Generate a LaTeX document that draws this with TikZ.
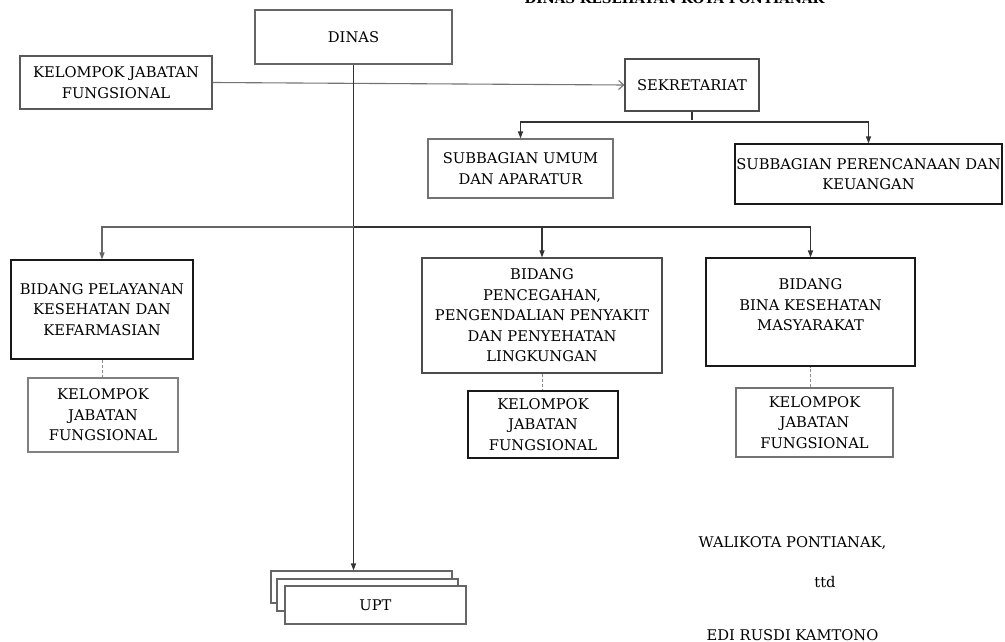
\documentclass[tikz,border=0pt]{standalone}
\usepackage{fontspec}
\setmainfont{DejaVu Serif}
\usetikzlibrary{arrows.meta}
\newcommand\orgfont{\fontsize{14.7}{20.5}\selectfont}
\newcommand\titlefont{\fontsize{13.5}{16}\selectfont\bfseries}
\begin{document}
\begin{tikzpicture}[x=1pt,y=-1pt,
  box/.style={draw, fill=white, align=center, inner sep=0pt, font=\orgfont, line width=1.1pt},
  conn/.style={line width=1.1pt, draw=black!80},
  tip/.style={-{Triangle[length=7pt,width=5pt]}},
  opentip/.style={-{Straight Barb[length=5pt,width=9pt]}},
  dashline/.style={dash pattern=on 3pt off 2pt, draw=black!45, line width=1pt},
  plain/.style={font=\orgfont, inner sep=0pt},
]
\useasboundingbox (0,0) rectangle (1005,642);

% title (cut off at top, as in the source)
\node[inner sep=0pt, font=\titlefont, anchor=base] (title) at (674.5,4) {DINAS KESEHATAN KOTA PONTIANAK};

% boxes
\node[box, minimum width=197pt, minimum height=54pt, draw=black!60] (dinas) at (353.5,37) {DINAS};
\node[box, minimum width=192pt, minimum height=53pt, draw=black!65] (kjf0) at (116,82.5) {KELOMPOK JABATAN\\FUNGSIONAL};
\node[box, minimum width=134pt, minimum height=52pt, draw=black!70] (sek) at (692,85) {SEKRETARIAT};
\node[box, minimum width=185pt, minimum height=59pt, draw=black!55] (umum) at (520.5,168.5) {SUBBAGIAN UMUM\\DAN APARATUR};
\node[box, minimum width=267pt, minimum height=60pt, draw=black!90] (renc) at (868.5,174) {SUBBAGIAN PERENCANAAN DAN\\KEUANGAN};

\node[box, minimum width=182pt, minimum height=99pt, draw=black!90] (bp) at (102,309.5) {BIDANG PELAYANAN\\KESEHATAN DAN\\KEFARMASIAN};
\node[box, minimum width=240pt, minimum height=115pt, draw=black!70] (pcg) at (542,315.5) {BIDANG\\PENCEGAHAN,\\PENGENDALIAN PENYAKIT\\DAN PENYEHATAN\\LINGKUNGAN};
\node[box, minimum width=209pt, minimum height=108pt, draw=black!90] (bina) at (810.5,312) {};
\node[plain, align=center] (binatext) at (810.5,305) {BIDANG\\BINA KESEHATAN\\MASYARAKAT};

\node[box, minimum width=150pt, minimum height=74pt, draw=black!50] (kjf1) at (103,415) {KELOMPOK\\JABATAN\\FUNGSIONAL};
\node[box, minimum width=150pt, minimum height=67pt, draw=black!90] (kjf2) at (543,424.5) {KELOMPOK\\JABATAN\\FUNGSIONAL};
\node[box, minimum width=157pt, minimum height=69pt, draw=black!55] (kjf3) at (814.5,422.5) {KELOMPOK\\JABATAN\\FUNGSIONAL};

\node[box, minimum width=181pt, minimum height=32pt, draw=black!60] (upt3) at (361.5,587) {};
\node[box, minimum width=181pt, minimum height=32pt, draw=black!60] (upt2) at (367.5,595) {};
\node[box, minimum width=181pt, minimum height=38pt, draw=black!60] (upt1) at (375.5,605) {UPT};

% connectors
\draw[conn, draw=black!55, opentip] (kjf0.east) -- (sek.west);
\draw[conn, tip] (dinas.south) -- (dinas.south |- upt3.north);

\coordinate (hb) at (dinas.south |- 0,227);
\draw[conn, draw=black!60, tip] (hb) -| (bp.north);
\draw[conn, tip] (hb) -| (bina.north);
\draw[conn, tip] (pcg.north |- hb) -- (pcg.north);

\coordinate (hs) at (sek.south |- 0,122);
\draw[conn] (sek.south) -- ([yshift=2pt]hs);
\draw[conn, tip] (hs) -| (umum.north);
\draw[conn, tip] (hs) -| (renc.north);

\draw[dashline] (bp.south) -- (bp.south |- kjf1.north);
\draw[dashline] (pcg.south) -- (pcg.south |- kjf2.north);
\draw[dashline] (kjf3.north -| bina.south) -- (bina.south);

% signature
\node[plain] (walikota) at (792.5,543) {WALIKOTA PONTIANAK,};
\node[plain] (ttd) at (825,582) {ttd};
\node[plain] (nama) at (792.5,635) {EDI RUSDI KAMTONO};
\end{tikzpicture}
\end{document}
